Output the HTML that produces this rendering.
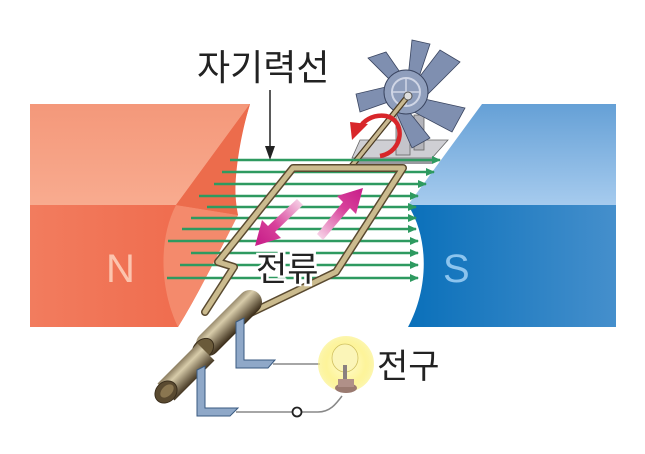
<!DOCTYPE html>
<html><head><meta charset="utf-8"><style>
html,body{margin:0;padding:0;background:#fff;}
svg{display:block;}
text{font-family:"Liberation Sans","Noto Sans CJK KR",sans-serif;}
</style></head><body>
<svg width="645" height="454" viewBox="0 0 645 454" xmlns="http://www.w3.org/2000/svg">
<defs>
<linearGradient id="nlow" x1="0" x2="1" y1="0" y2="0"><stop offset="0" stop-color="#f27c5e"/><stop offset="1" stop-color="#ee6648"/></linearGradient>
<linearGradient id="ntop" x1="0" x2="0" y1="0" y2="1"><stop offset="0" stop-color="#f4987a"/><stop offset="1" stop-color="#f8ab8f"/></linearGradient>
<linearGradient id="stop" x1="0" x2="0" y1="0" y2="1"><stop offset="0" stop-color="#65a0d6"/><stop offset="1" stop-color="#a6cbee"/></linearGradient>
<linearGradient id="slow" x1="0" x2="1" y1="0" y2="0"><stop offset="0" stop-color="#0a70ba"/><stop offset="1" stop-color="#458fcc"/></linearGradient>
<linearGradient id="cyl1" gradientUnits="userSpaceOnUse" x1="212" y1="312" x2="234" y2="334"><stop offset="0" stop-color="#4a3a22"/><stop offset="0.45" stop-color="#d8ccaa"/><stop offset="1" stop-color="#3e301c"/></linearGradient>
<linearGradient id="cyl2" gradientUnits="userSpaceOnUse" x1="170" y1="362" x2="192" y2="384"><stop offset="0" stop-color="#4a3a22"/><stop offset="0.45" stop-color="#d8ccaa"/><stop offset="1" stop-color="#3e301c"/></linearGradient>
<linearGradient id="pa1" gradientUnits="userSpaceOnUse" x1="302" y1="200" x2="258" y2="242"><stop offset="0" stop-color="#f8d8ea"/><stop offset="0.6" stop-color="#d8409a"/><stop offset="1" stop-color="#c8208a"/></linearGradient>
<linearGradient id="pa2" gradientUnits="userSpaceOnUse" x1="318" y1="238" x2="362" y2="190"><stop offset="0" stop-color="#f8d8ea"/><stop offset="0.6" stop-color="#d8409a"/><stop offset="1" stop-color="#c8208a"/></linearGradient>
<radialGradient id="glow"><stop offset="0" stop-color="#fffbd0"/><stop offset="0.7" stop-color="#fdf49a"/><stop offset="1" stop-color="#fbf07a" stop-opacity="0.6"/></radialGradient>
<marker id="ga" markerWidth="9" markerHeight="8" refX="8" refY="4" orient="auto" markerUnits="userSpaceOnUse"><path d="M0,0 L9,4 L0,8 Z" fill="#2e9a60"/></marker>
</defs>

<path d="M30,104 H250 C236,150 232,200 238,215 C215,260 195,300 178,327 H30 Z" fill="url(#nlow)"/>
<path d="M238,215 C215,260 195,300 178,327 C160,290 158,240 176,205 Z" fill="#f48a6c"/>
<path d="M30,104 H250 L176,205 H30 Z" fill="url(#ntop)"/>
<path d="M250,104 C236,150 232,185 238,215 L176,205 Z" fill="#ec6c4c"/>
<text x="106" y="282" font-size="40" fill="#fcc4ae">N</text>

<path d="M482,104 H616 V205 H408 Z" fill="url(#stop)"/>
<path d="M408,205 H616 V327 H408 C428,290 430,240 408,205 Z" fill="url(#slow)"/>
<text x="443" y="282" font-size="40" fill="#8cc4ee">S</text>

<path d="M360,140 H448 L432,158 H352 Z" fill="#cfcfd4" stroke="#666" stroke-width="0.8"/>
<rect x="352" y="158" width="80" height="6" fill="#9a9aa0"/>
<rect x="396" y="100" width="14" height="55" fill="#c4c4ca" stroke="#666" stroke-width="0.8"/>
<rect x="414" y="115" width="10" height="35" fill="#b4b4ba" stroke="#666" stroke-width="0.8"/>
<g fill="#7f8fb0" stroke="#3a4560" stroke-width="0.8">
<path d="M414,84 L440,50 L460,62 L426,96 Z"/>
<path d="M420,98 L465,108 L452,132 L414,112 Z"/>
<path d="M406,108 L430,138 L412,148 L396,112 Z"/>
<path d="M394,100 L360,112 L356,94 L390,86 Z"/>
<path d="M394,84 L368,58 L386,52 L404,78 Z"/>
<path d="M408,78 L412,40 L430,44 L418,80 Z"/>
</g>
<circle cx="406" cy="92" r="22" fill="#8f9ebc" stroke="#3a4560" stroke-width="1"/>
<circle cx="406" cy="92" r="14" fill="none" stroke="#d0d6e6" stroke-width="2"/>
<g stroke="#d0d6e6" stroke-width="1.5"><line x1="392" y1="92" x2="420" y2="92"/><line x1="406" y1="78" x2="406" y2="106"/></g>

<line x1="350" y1="168" x2="408" y2="96" stroke="#4a3a22" stroke-width="6"/>
<line x1="350" y1="168" x2="408" y2="96" stroke="#c8b890" stroke-width="3.5"/>
<circle cx="408" cy="96" r="4" fill="#ddd" stroke="#555"/>

<path d="M380,156 C404,152 406,120 386,116 C372,114 362,122 360,128" fill="none" stroke="#d8262a" stroke-width="4.5"/>
<path d="M350,122 L368,124 L352,140 Z" fill="#d8262a"/>

<g stroke="#2e9a60" stroke-width="2.4" marker-end="url(#ga)">
<line x1="230" y1="160" x2="440" y2="160"/>
<line x1="222" y1="172" x2="434" y2="172"/>
<line x1="214" y1="184" x2="426" y2="184"/>
<line x1="199" y1="196" x2="418" y2="196"/>
<line x1="207" y1="207" x2="416" y2="207"/>
<line x1="191" y1="218" x2="416" y2="218"/>
<line x1="182" y1="229" x2="416" y2="229"/>
<line x1="168" y1="241" x2="418" y2="241"/>
<line x1="191" y1="253" x2="418" y2="253"/>
<line x1="180" y1="265" x2="418" y2="265"/>
<line x1="167" y1="278" x2="418" y2="278"/>
</g>

<g fill="none" stroke-linejoin="round" stroke-linecap="round">
<path d="M350,168 L293,168 L218,262 L234,267 L205,312 M350,168 L403,168 L336,272 L240,318" stroke="#5a4a30" stroke-width="8"/>
<path d="M350,168 L293,168 L218,262 L234,267 L205,312 M350,168 L403,168 L336,272 L240,318" stroke="#cbbb8e" stroke-width="5"/>
</g>

<path d="M303,205 L297,199 L268,226 L262,220 L255,246 L281,238 L275,232 Z" fill="url(#pa1)"/>
<path d="M317,234 L323,240 L350,208 L356,214 L363,188 L337,196 L343,202 Z" fill="url(#pa2)"/>

<line x1="250" y1="302" x2="208" y2="344" stroke="url(#cyl1)" stroke-width="24" stroke-linecap="round"/>
<ellipse cx="203" cy="349" rx="12" ry="9" transform="rotate(-45 203 349)" fill="#6a5a3a" stroke="#3a2e1c"/>
<line x1="206" y1="352" x2="166" y2="392" stroke="url(#cyl2)" stroke-width="24" stroke-linecap="butt"/>
<ellipse cx="166" cy="392" rx="12" ry="10" transform="rotate(-45 166 392)" fill="#5a4a30" stroke="#3a2e1c"/>
<ellipse cx="167" cy="391" rx="8" ry="5" transform="rotate(-45 167 391)" fill="#8a7650"/>

<g fill="#8fa8c8" stroke="#3a5a80" stroke-width="1">
<path d="M236,322 L244,318 L244,360 L275,360 L268,368 L236,368 Z"/>
<path d="M197,370 L205,366 L205,408 L238,408 L230,416 L197,416 Z"/>
</g>
<path d="M273,364 H320" stroke="#888" stroke-width="1.5" fill="none"/>
<path d="M236,412 H292 M302,412 H318 C330,412 336,404 342,396" stroke="#888" stroke-width="1.5" fill="none"/>
<circle cx="297" cy="412" r="4.5" fill="#fff" stroke="#222" stroke-width="1.8"/>

<circle cx="346" cy="364" r="28" fill="url(#glow)"/>
<ellipse cx="345" cy="358" rx="13" ry="14" fill="#fbf5b8" stroke="#d0c060" stroke-width="0.8"/>
<rect x="343" y="365" width="4" height="14" fill="#8a8080"/>
<ellipse cx="346" cy="388" rx="11" ry="5" fill="#9a7a70"/>
<rect x="338" y="379" width="16" height="8" fill="#b09088"/>

<text x="197" y="80" font-size="36" fill="#222">자기력선</text>
<line x1="270" y1="90" x2="270" y2="152" stroke="#222" stroke-width="1.5"/>
<path d="M265,146 L270,160 L275,146 Z" fill="#222"/>
<text x="256" y="281" font-size="34" fill="#222" stroke="#fff" stroke-width="5" paint-order="stroke">전류</text>
<text x="377" y="378" font-size="34" fill="#222">전구</text>
</svg>
</body></html>
